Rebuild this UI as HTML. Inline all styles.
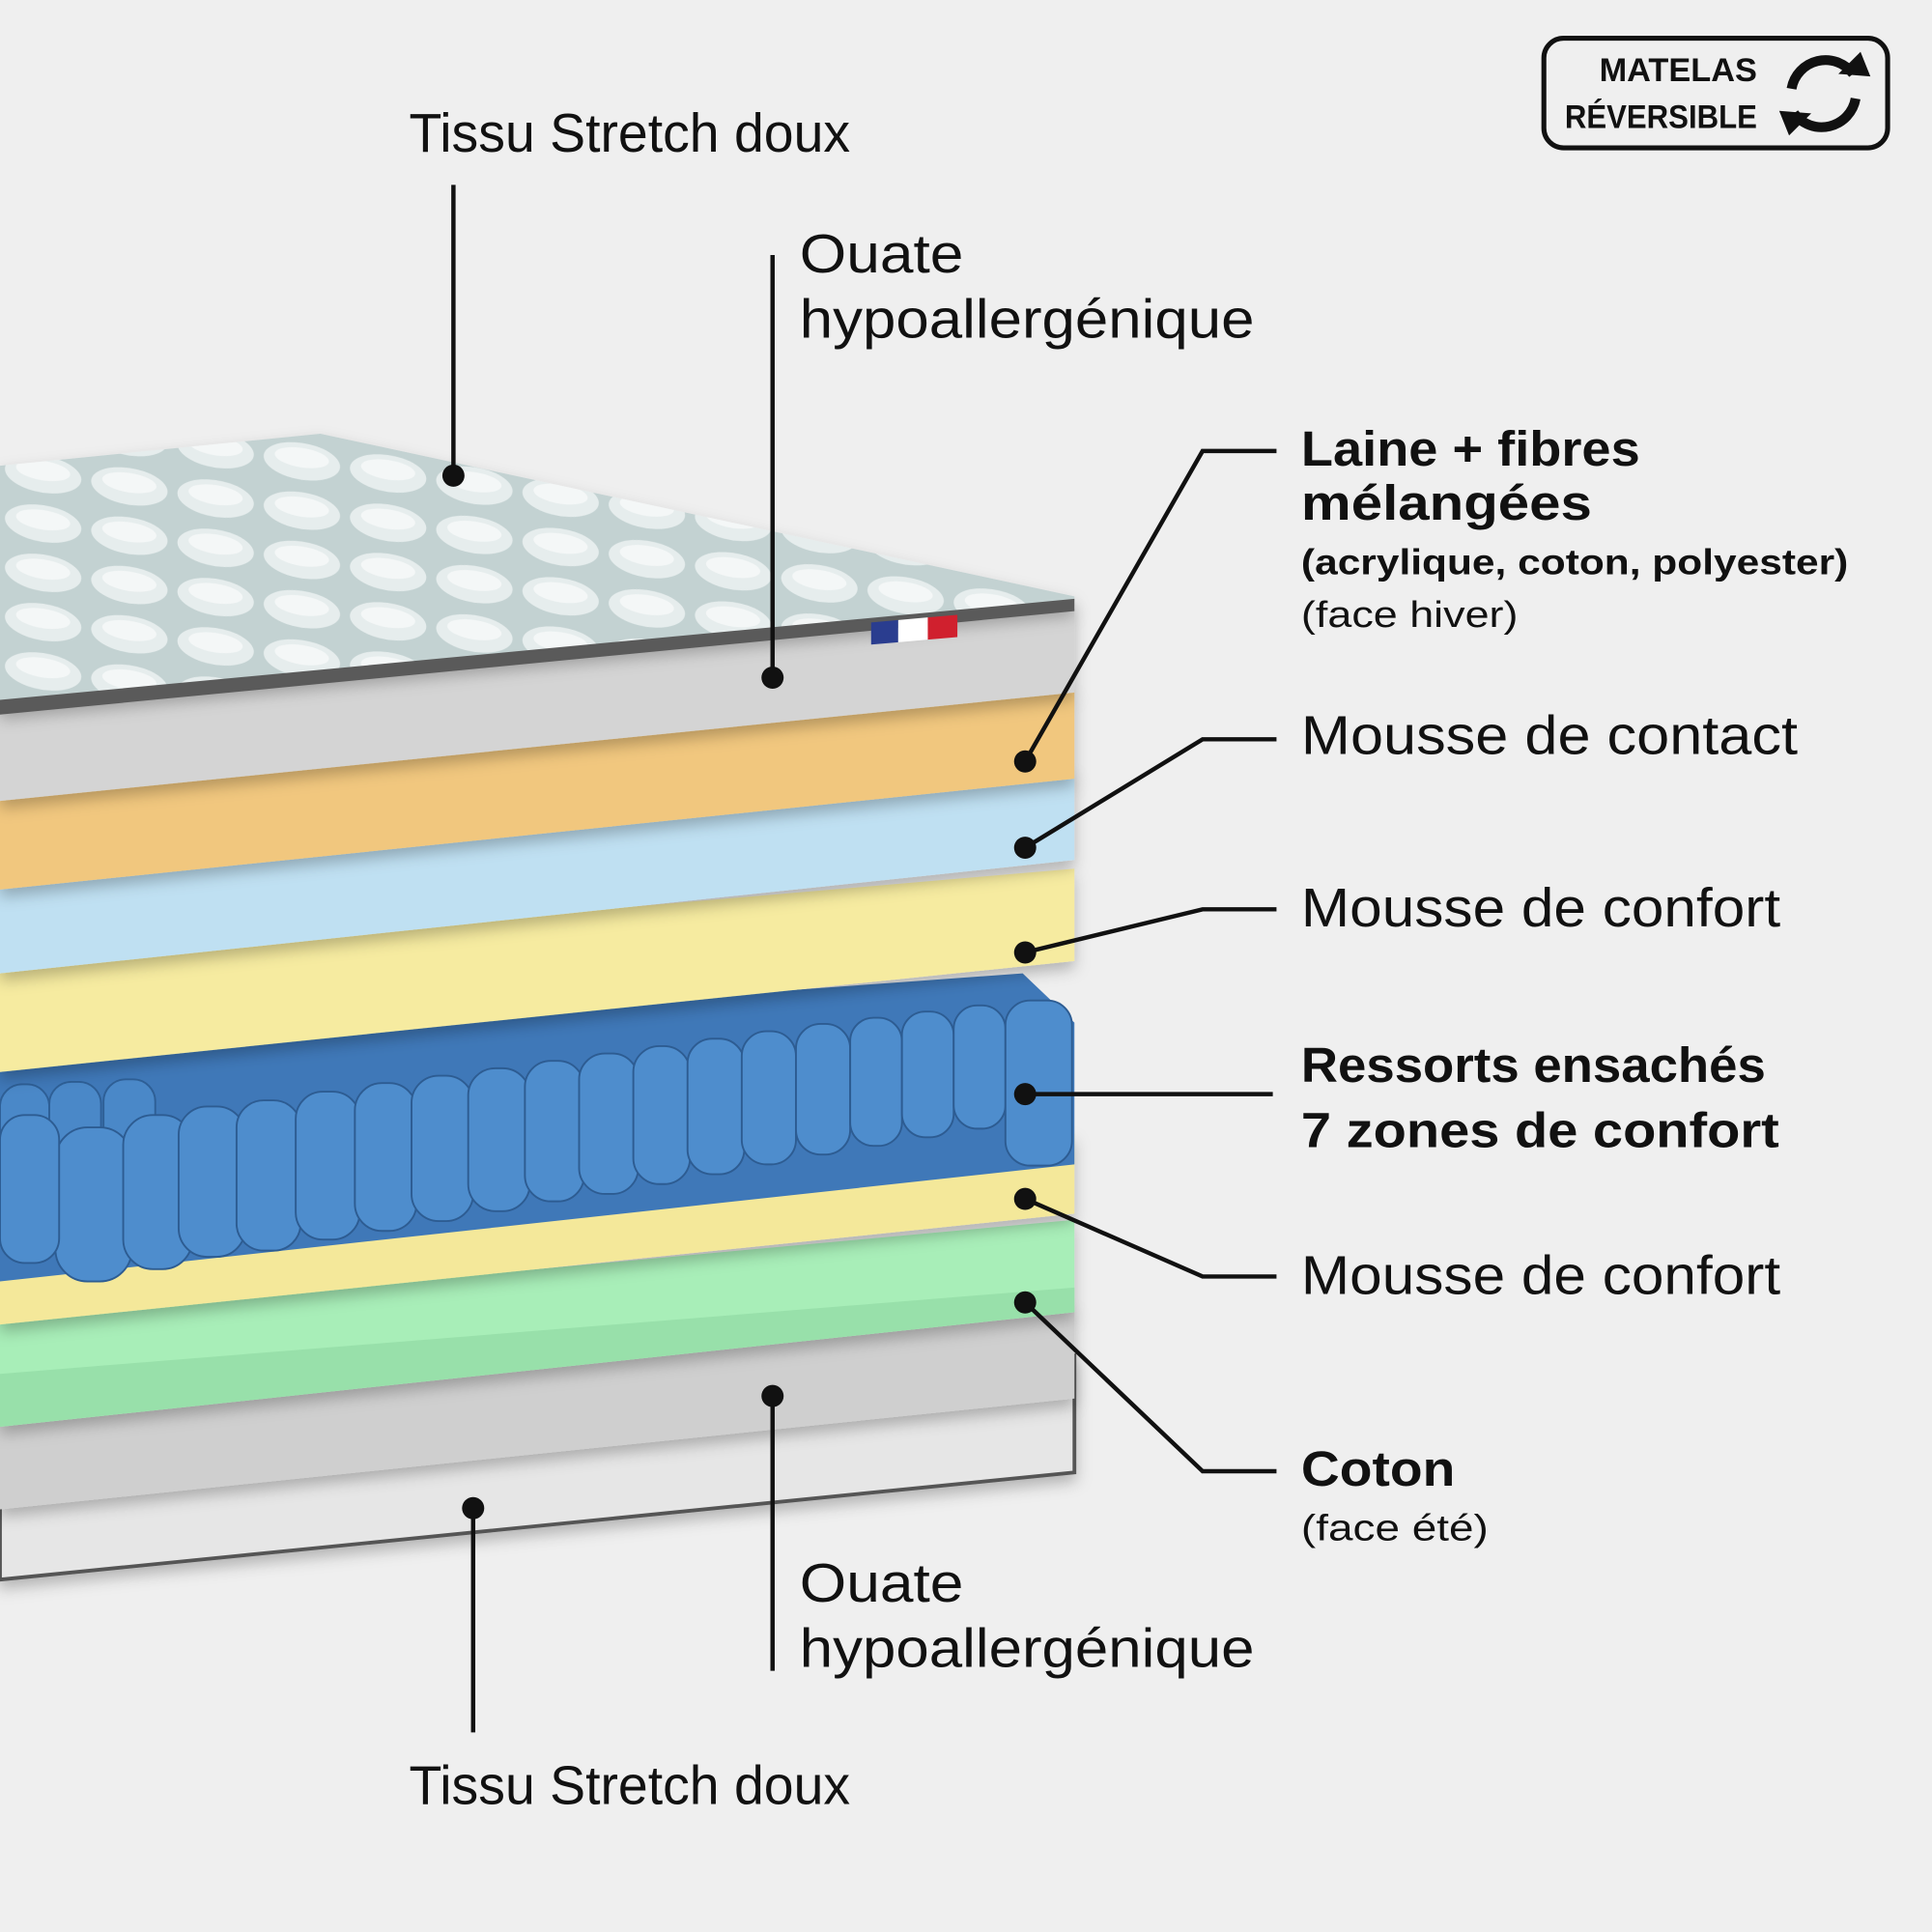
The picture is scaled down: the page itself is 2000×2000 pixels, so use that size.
<!DOCTYPE html>
<html><head><meta charset="utf-8"><style>
html,body{margin:0;padding:0;background:#efefef;}
svg{display:block;}
text{font-family:"Liberation Sans",sans-serif;fill:#111;}
</style></head><body>
<svg width="2000" height="2000" viewBox="0 0 1568 1568" xmlns="http://www.w3.org/2000/svg">
<defs>
<filter id="sh" x="-10%" y="-10%" width="130%" height="140%"><feDropShadow dx="0" dy="6" stdDeviation="6" flood-color="#000" flood-opacity="0.25"/></filter>
<pattern id="quilt" width="70" height="40" patternUnits="userSpaceOnUse" patternTransform="skewY(8)">
<rect width="70" height="40" fill="#c3d2d2"/><ellipse cx="35" cy="20" rx="31" ry="15" fill="#e6eded"/><ellipse cx="35" cy="17" rx="22" ry="8" fill="#f4f7f7"/></pattern>
</defs>
<rect width="1568" height="1568" fill="#efefef"/>

<polygon points="0,1180 872,1100 872,1195 0,1282" fill="#e6e6e6" stroke="#555" stroke-width="3" filter="url(#sh)"/>
<polygon points="0,1140 872,1060 872,1135 0,1225" fill="#cfcfcf" filter="url(#sh)"/>
<polygon points="0,1070 872,990 872,1065 0,1158" fill="#a8eeb8" filter="url(#sh)"/>
<polygon points="0,1115 872,1045 872,1065 0,1158" fill="#98e0aa"/>
<polygon points="0,1000 872,920 872,985 0,1075" fill="#f4e89a" filter="url(#sh)"/>
<polygon points="0,850 830,790 872,830 872,945 0,1040" fill="#3f78b8"/>
<g fill="#4a88c8" stroke="#2e5f96" stroke-width="1.5">
<rect x="0" y="880" width="40" height="140" rx="18"/>
<rect x="40" y="878" width="42" height="145" rx="18"/>
<rect x="84" y="876" width="42" height="140" rx="18"/>
</g>
<g fill="#4e8dcd" stroke="#2d5c92" stroke-width="1.5">
<rect x="45" y="915" width="62" height="125" rx="26"/>
<rect x="100" y="905" width="56" height="125" rx="24"/>
<rect x="145" y="898" width="54" height="122" rx="23"/>
<rect x="192" y="893" width="52" height="122" rx="22"/>
<rect x="240" y="886" width="52" height="120" rx="22"/>
<rect x="288" y="879" width="50" height="120" rx="22"/>
<rect x="334" y="873" width="50" height="118" rx="22"/>
<rect x="380" y="867" width="50" height="116" rx="22"/>
<rect x="426" y="861" width="48" height="114" rx="21"/>
<rect x="470" y="855" width="48" height="114" rx="21"/>
<rect x="514" y="849" width="46" height="112" rx="21"/>
<rect x="558" y="843" width="46" height="110" rx="20"/>
<rect x="602" y="837" width="44" height="108" rx="20"/>
<rect x="646" y="831" width="44" height="106" rx="20"/>
<rect x="690" y="826" width="42" height="104" rx="19"/>
<rect x="732" y="821" width="42" height="102" rx="19"/>
<rect x="774" y="816" width="42" height="100" rx="19"/>
<rect x="816" y="812" width="54" height="134" rx="20"/>
<rect x="0" y="905" width="48" height="120" rx="20"/>
</g>
<polygon points="0,780 872,705 872,780 0,870" fill="#f6eba0" filter="url(#sh)"/>
<polygon points="0,705 872,625 872,698 0,790" fill="#bfe0f2" filter="url(#sh)"/>
<polygon points="0,630 872,560 872,632 0,722" fill="#f1c77e" filter="url(#sh)"/>
<polygon points="0,560 872,490 872,562 0,650" fill="#d4d4d4" filter="url(#sh)"/>
<polygon points="0,378 260,352 872,484 872,494 0,578" fill="url(#quilt)" filter="url(#sh)"/>
<polygon points="0,568 872,486 872,496 0,580" fill="#5a5a5a"/>
<rect x="707" y="505" width="22" height="18" fill="#2a3d8f" transform="skewY(-5) translate(0,62)"/>
<rect x="729" y="505" width="24" height="18" fill="#fff" transform="skewY(-5) translate(0,62)"/>
<rect x="753" y="505" width="24" height="18" fill="#d0202e" transform="skewY(-5) translate(0,62)"/>

<g stroke="#111" stroke-width="3.5" fill="none">
<line x1="368" y1="150" x2="368" y2="386"/>
<line x1="627" y1="207" x2="627" y2="550"/>
<polyline points="832,618 976,366 1036,366"/>
<polyline points="832,688 976,600 1036,600"/>
<polyline points="832,773 976,738 1036,738"/>
<line x1="832" y1="888" x2="1033" y2="888"/>
<polyline points="832,973 976,1036 1036,1036"/>
<polyline points="832,1057 976,1194 1036,1194"/>
<line x1="627" y1="1133" x2="627" y2="1356"/>
<line x1="384" y1="1224" x2="384" y2="1406"/>
</g>
<g fill="#111">
<circle cx="368" cy="386" r="9"/><circle cx="627" cy="550" r="9"/>
<circle cx="832" cy="618" r="9"/><circle cx="832" cy="688" r="9"/>
<circle cx="832" cy="773" r="9"/><circle cx="832" cy="888" r="9"/>
<circle cx="832" cy="973" r="9"/><circle cx="832" cy="1057" r="9"/>
<circle cx="627" cy="1133" r="9"/><circle cx="384" cy="1224" r="9"/>
</g>

<text x="332" y="123" font-size="44" textLength="358" lengthAdjust="spacingAndGlyphs">Tissu Stretch doux</text>
<text x="649" y="221" font-size="44" textLength="133" lengthAdjust="spacingAndGlyphs">Ouate</text>
<text x="649" y="274" font-size="44" textLength="369" lengthAdjust="spacingAndGlyphs">hypoallergénique</text>
<text x="1056" y="378" font-size="40" font-weight="bold" textLength="275" lengthAdjust="spacingAndGlyphs">Laine + fibres</text>
<text x="1056" y="422" font-size="40" font-weight="bold" textLength="236" lengthAdjust="spacingAndGlyphs">mélangées</text>
<text x="1056" y="466" font-size="29" font-weight="bold" textLength="444" lengthAdjust="spacingAndGlyphs">(acrylique, coton, polyester)</text>
<text x="1056" y="509" font-size="30" textLength="176" lengthAdjust="spacingAndGlyphs">(face hiver)</text>
<text x="1056" y="612" font-size="44" textLength="403" lengthAdjust="spacingAndGlyphs">Mousse de contact</text>
<text x="1056" y="752" font-size="44" textLength="389" lengthAdjust="spacingAndGlyphs">Mousse de confort</text>
<text x="1056" y="878" font-size="40" font-weight="bold" textLength="377" lengthAdjust="spacingAndGlyphs">Ressorts ensachés</text>
<text x="1056" y="931" font-size="40" font-weight="bold" textLength="388" lengthAdjust="spacingAndGlyphs">7 zones de confort</text>
<text x="1056" y="1050" font-size="44" textLength="389" lengthAdjust="spacingAndGlyphs">Mousse de confort</text>
<text x="1056" y="1206" font-size="40" font-weight="bold" textLength="125" lengthAdjust="spacingAndGlyphs">Coton</text>
<text x="1056" y="1250" font-size="30" textLength="152" lengthAdjust="spacingAndGlyphs">(face été)</text>
<text x="649" y="1300" font-size="44" textLength="133" lengthAdjust="spacingAndGlyphs">Ouate</text>
<text x="649" y="1353" font-size="44" textLength="369" lengthAdjust="spacingAndGlyphs">hypoallergénique</text>
<text x="332" y="1464" font-size="44" textLength="358" lengthAdjust="spacingAndGlyphs">Tissu Stretch doux</text>

<rect x="1253" y="31" width="279" height="89" rx="16" fill="none" stroke="#111" stroke-width="4"/>
<text x="1298" y="66" font-size="27" font-weight="bold" textLength="128" lengthAdjust="spacingAndGlyphs">MATELAS</text>
<text x="1270" y="104" font-size="27" font-weight="bold" textLength="156" lengthAdjust="spacingAndGlyphs">RÉVERSIBLE</text>
<g stroke="#111" stroke-width="8" fill="none">
<path d="M1454,72 A28,28 0 0 1 1504,60"/>
<path d="M1506,80 A28,28 0 0 1 1456,92"/>
</g>
<polygon points="1492,60 1518,62 1510,42" fill="#111"/>
<polygon points="1444,90 1470,92 1452,110" fill="#111"/>
</svg>
</body></html>
